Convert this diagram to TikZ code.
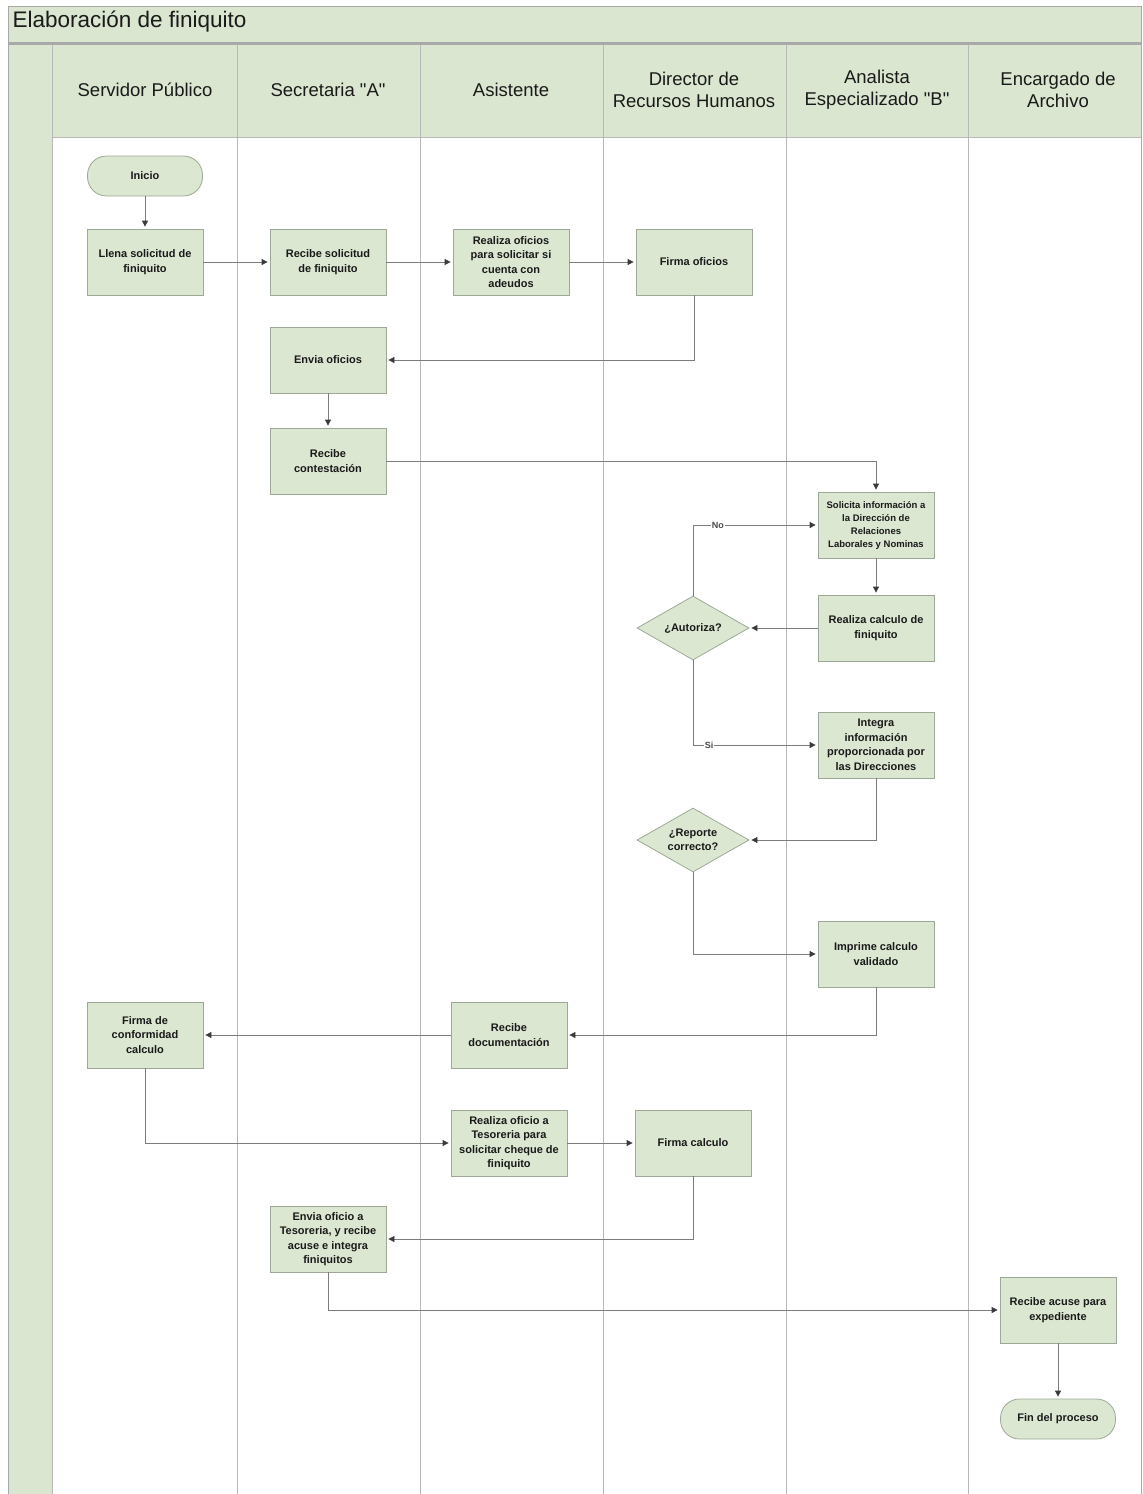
\documentclass[tikz,border=0pt]{standalone}
\usepackage{fontspec}
\setmainfont{Liberation Sans}
\usetikzlibrary{arrows.meta,positioning,shapes.geometric}
\definecolor{ink}{HTML}{1A1A1A}
\definecolor{muted}{HTML}{4A4A4A}
\definecolor{panel}{HTML}{DAE6CF}
\definecolor{boxfill}{HTML}{DCE7D2}
\definecolor{boxline}{HTML}{9DA896}
\definecolor{laneline}{HTML}{B8B8B8}
\definecolor{frameline}{HTML}{A8A8A8}
\definecolor{flow}{HTML}{7C7C7C}
\definecolor{tipcol}{HTML}{3A3A3A}
\tikzset{
  basebox/.style={draw=boxline,fill=boxfill,align=center,text=ink,font=\fontsize{11}{14.5}\selectfont\bfseries,inner sep=2pt,line width=0.8pt},
  stepbox/.style={basebox,minimum width=116pt,minimum height=66pt},
  smallstep/.style={stepbox,font=\fontsize{9.5}{13}\selectfont\bfseries},
  termbox/.style={basebox,rounded corners=19pt,minimum width=115pt,minimum height=40pt},
  decision/.style={basebox,diamond,aspect=1.75,inner sep=0pt,minimum width=112pt,minimum height=64pt},
  arrow/.style={-{Triangle[length=6pt,width=6pt,color=tipcol]},line width=0.8pt,draw=flow,shorten >=2pt},
  lane/.style={draw=laneline,line width=0.9pt},
  head/.style={font=\fontsize{18.5}{22}\selectfont,text=ink,align=center},
  lab/.style={font=\fontsize{9}{10}\selectfont\bfseries,text=muted,fill=white,inner sep=1pt}
}
\begin{document}
\begin{tikzpicture}[x=1pt,y=-1pt]
    \useasboundingbox (0,0) rectangle (1143,1494);
    \fill[panel] (8,6) rectangle (1141,42);
    \fill[panel] (8,45) rectangle (52,1494);
    \fill[panel] (52,45) rectangle (1141,137);
    \draw[frameline,line width=0.9pt] (8,6) rectangle (1141,1494);
    \draw[frameline,line width=3pt] (8,43.5) -- (1141,43.5);
    \draw[lane] (52,137) -- (1141,137);
    \draw[lane] (52,45) -- (52,1494);
    \draw[lane] (237,45) -- (237,1494);
    \draw[lane] (420,45) -- (420,1494);
    \draw[lane] (603,45) -- (603,1494);
    \draw[lane] (786,45) -- (786,1494);
    \draw[lane] (968,45) -- (968,1494);

    \node[font=\fontsize{22.5}{25}\selectfont,text=ink,anchor=west] (title) at (9,22) {Elaboración de finiquito};
    \node[head] (hsp) at (145,90) {Servidor Público};
    \node[head] (hsec) at (328,90) {Secretaria \textquotedbl A\textquotedbl};
    \node[head] (hasi) at (511,90) {Asistente};
    \node[head] (hdir) at (694,90) {Director de\\Recursos Humanos};
    \node[head] (hana) at (877,90) {Analista\\Especializado \textquotedbl B\textquotedbl};
    \node[head] (harc) at (1058,90) {Encargado de\\Archivo};

    \node[termbox] (ini) at (145,176) {Inicio};
    \node[stepbox] (llena) at (145,262) {Llena solicitud de\\finiquito};
    \node[stepbox] (recsol) at (328,262) {Recibe solicitud\\de finiquito};
    \node[stepbox] (realof) at (511,262) {Realiza oficios\\para solicitar si\\cuenta con\\adeudos};
    \node[stepbox] (firof) at (694,262) {Firma oficios};
    \node[stepbox] (envof) at (328,360) {Envia oficios};
    \node[stepbox] (reccon) at (328,461) {Recibe\\contestación};
    \node[smallstep] (solinf) at (876,525) {Solicita información a\\la Dirección de\\Relaciones\\Laborales y Nominas};
    \node[stepbox] (realcal) at (876,628) {Realiza calculo de\\finiquito};
    \node[decision] (aut) at (693,628) {¿Autoriza?};
    \node[stepbox] (integ) at (876,745) {Integra\\información\\proporcionada por\\las Direcciones};
    \node[decision] (rep) at (693,840) {¿Reporte\\correcto?};
    \node[stepbox] (impr) at (876,954) {Imprime calculo\\validado};
    \node[stepbox] (fircon) at (145,1035) {Firma de\\conformidad\\calculo};
    \node[stepbox] (recdoc) at (509,1035) {Recibe\\documentación};
    \node[stepbox] (realtes) at (509,1143) {Realiza oficio a\\Tesoreria para\\solicitar cheque de\\finiquito};
    \node[stepbox] (fircal) at (693,1143) {Firma calculo};
    \node[stepbox] (envtes) at (328,1239) {Envia oficio a\\Tesoreria, y recibe\\acuse e integra\\finiquitos};
    \node[stepbox] (recacu) at (1058,1310) {Recibe acuse para\\expediente};
    \node[termbox] (fin) at (1058,1419) {Fin del proceso};

    \draw[arrow] (ini.south) -- (llena.north);
    \draw[arrow] (llena.east) -- (recsol.west);
    \draw[arrow] (recsol.east) -- (realof.west);
    \draw[arrow] (realof.east) -- (firof.west);
    \draw[arrow] (firof.south) |- (envof.east);
    \draw[arrow] (envof.south) -- (reccon.north);
    \draw[arrow] (reccon.east) -| (solinf.north);
    \draw[arrow] (solinf.south) -- (realcal.north);
    \draw[arrow] (realcal.west) -- (aut.east);
    \draw[arrow] (aut.north) |- node[lab,pos=0.6] {No} (solinf.west);
    \draw[arrow] (aut.south) |- node[lab,pos=0.565] {Si} (integ.west);
    \draw[arrow] (integ.south) |- (rep.east);
    \draw[arrow] (rep.south) |- (impr.west);
    \draw[arrow] (impr.south) |- (recdoc.east);
    \draw[arrow] (recdoc.west) -- (fircon.east);
    \draw[arrow] (fircon.south) |- (realtes.west);
    \draw[arrow] (realtes.east) -- (fircal.west);
    \draw[arrow] (fircal.south) |- (envtes.east);
    \draw[arrow] (envtes.south) |- (recacu.west);
    \draw[arrow] (recacu.south) -- (fin.north);
\end{tikzpicture}
\end{document}
